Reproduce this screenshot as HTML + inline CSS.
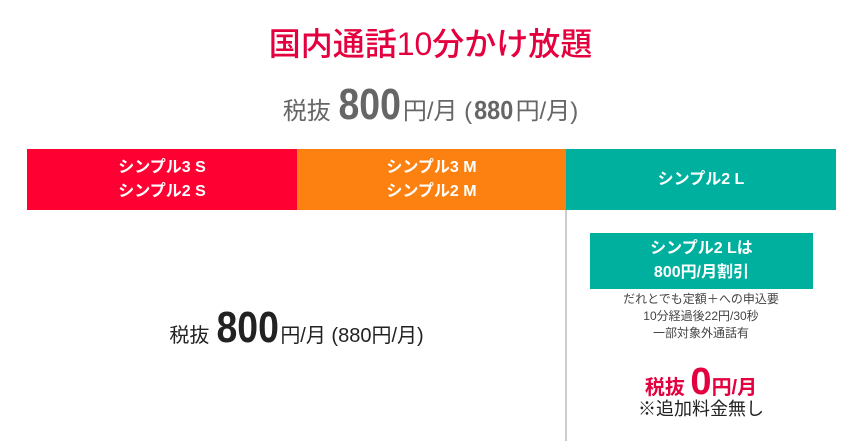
<!DOCTYPE html>
<html><head><meta charset="utf-8"><style>
body{margin:0;width:861px;height:441px;background:#fff;position:relative;overflow:hidden;font-family:"Liberation Sans","Noto Sans CJK JP",sans-serif}
.a{position:absolute;white-space:nowrap}
.c{text-align:center}
.bar{position:absolute;top:149px;height:61px;color:#fff;font-weight:bold;font-size:16px;line-height:24px;display:flex;align-items:center;justify-content:center;text-align:center}
.big{font-family:"Liberation Sans Narrow","Liberation Sans",sans-serif;font-weight:bold;display:inline-block}
</style></head><body>
<div class="a c" style="left:0;width:861px;top:22px;font-size:32px;line-height:44px;color:#e4003f;font-weight:500">国内通話10分かけ放題</div>
<div class="a c" style="left:0;width:861px;top:82px;font-size:24px;line-height:46px;color:#666">税抜 <span class="big" style="font-size:44px;transform:scaleX(0.85);margin:0 -4px">800</span>円/月 (<span class="big" style="font-size:26px;transform:scaleX(0.9)">880</span>円/月)</div>
<div class="bar" style="left:27px;width:270px;background:#ff0033">シンプル3 S<br>シンプル2 S</div>
<div class="bar" style="left:297px;width:269px;background:#fc8110">シンプル3 M<br>シンプル2 M</div>
<div class="bar" style="left:566px;width:270px;background:#00b09f">シンプル2 L</div>
<div class="a" style="left:565px;top:210px;width:2px;height:231px;background:#ccc"></div>
<div class="a c" style="left:27px;width:539px;top:305px;font-size:20px;line-height:46px;color:#222">税抜 <span class="big" style="font-size:44px;transform:scaleX(0.85);margin:0 -4px">800</span>円/月 (880円/月)</div>
<div class="a c" style="left:590px;top:233px;width:223px;height:56px;background:#00b09f;color:#fff;font-weight:bold;font-size:16px;line-height:24px;padding-top:4px;box-sizing:border-box">シンプル2 Lは<br>800円/月割引</div>
<div class="a c" style="left:566px;width:270px;top:291px;font-size:12px;line-height:17px;color:#444">だれとでも定額＋への申込要<br>10分経過後22円/30秒<br>一部対象外通話有</div>
<div class="a c" style="left:566px;width:270px;top:362px;font-size:20px;line-height:40px;color:#e4003f;font-weight:bold">税抜 <span class="big" style="font-size:38px">0</span>円/月</div>
<div class="a c" style="left:566px;width:270px;top:398px;font-size:18px;line-height:22px;color:#222">※追加料金無し</div>
</body></html>
